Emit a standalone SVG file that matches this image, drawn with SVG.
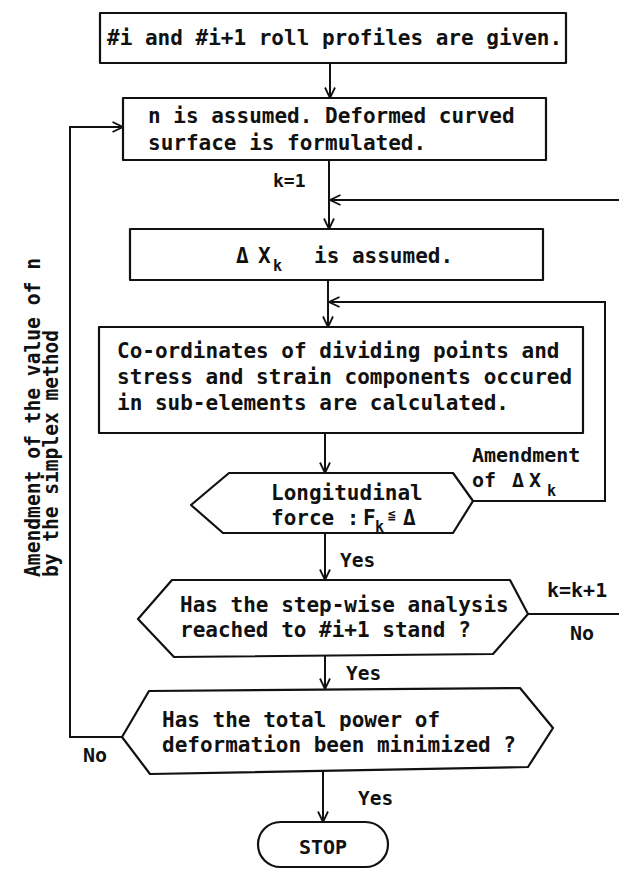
<svg xmlns="http://www.w3.org/2000/svg" width="619" height="869" viewBox="0 0 619 869">
<defs>
<style>
.shape{fill:none;stroke:#111;stroke-width:2.2;stroke-linejoin:round}
.line{fill:none;stroke:#111;stroke-width:2;stroke-linejoin:miter}
.t{font-family:"DejaVu Sans Mono","Liberation Mono",monospace;font-weight:bold;font-size:21px;fill:#111}
.s{font-size:19.5px}
.sub{font-size:15px}
.r{font-size:21px}
</style>
<marker id="arr" viewBox="0 0 12 12" refX="11.5" refY="6" markerWidth="12" markerHeight="12" markerUnits="userSpaceOnUse" orient="auto">
<path d="M1,1 L11.5,6 L1,11" fill="none" stroke="#111" stroke-width="1.8"/>
</marker>
</defs>
<rect width="619" height="869" fill="#fff"/>

<g id="connectors">
<line class="line" x1="330" y1="63" x2="330" y2="98" marker-end="url(#arr)"/>
<line class="line" x1="329" y1="160" x2="329" y2="229" marker-end="url(#arr)"/>
<line class="line" x1="619" y1="200" x2="330" y2="200" marker-end="url(#arr)"/>
<line class="line" x1="328" y1="280" x2="328" y2="327" marker-end="url(#arr)"/>
<polyline class="line" points="473,501 605,501 605,302 329,302" marker-end="url(#arr)"/>
<line class="line" x1="325" y1="433" x2="325" y2="473" marker-end="url(#arr)"/>
<line class="line" x1="325" y1="533" x2="325" y2="580" marker-end="url(#arr)"/>
<line class="line" x1="528" y1="614" x2="619" y2="614"/>
<line class="line" x1="325" y1="656" x2="325" y2="689" marker-end="url(#arr)"/>
<polyline class="line" points="122,737 70,737 70,127 123,127" marker-end="url(#arr)"/>
<line class="line" x1="323" y1="771" x2="323" y2="822" marker-end="url(#arr)"/>
<text class="t" x="273" y="187" style="font-size:18px">k=1</text>
<text class="t" x="472" y="462" style="font-size:20px">Amendment</text>
<text class="t" x="472" y="487" style="font-size:20px">of</text>
<text class="t" x="512" y="487" style="font-size:20px">Δ</text>
<text class="t" x="529" y="487" style="font-size:20px">X</text>
<text class="t sub" x="547" y="496">k</text>
<text class="t s" x="340" y="567">Yes</text>
<text class="t" x="547" y="597" style="font-size:20px">k=k+1</text>
<text class="t" x="570" y="640" style="font-size:20px">No</text>
<text class="t s" x="346" y="680">Yes</text>
<text class="t" x="83" y="762" style="font-size:20px">No</text>
<text class="t s" x="358" y="805">Yes</text>
<text class="t r" transform="translate(40,577) rotate(-90)" textLength="319" lengthAdjust="spacingAndGlyphs">Amendment of the value of n</text>
<text class="t r" transform="translate(58,577) rotate(-90)" textLength="247" lengthAdjust="spacingAndGlyphs">by the simplex method</text>
</g>

<g id="n1">
<rect class="shape" x="100" y="13" width="466" height="50"/>
<text class="t" x="107" y="45">#i and #i+1 roll profiles are given.</text>
</g>

<g id="n2">
<rect class="shape" x="123" y="98" width="423" height="62"/>
<text class="t" x="148" y="123">n is assumed. Deformed curved</text>
<text class="t" x="148" y="150">surface is formulated.</text>
</g>

<g id="n3">
<rect class="shape" x="130" y="229" width="413" height="51"/>
<text class="t" x="236" y="263">Δ</text>
<text class="t" x="258" y="263">X</text>
<text class="t sub" x="273" y="271">k</text>
<text class="t" x="314" y="263">is assumed.</text>
</g>

<g id="n4">
<rect class="shape" x="99" y="327" width="484" height="106"/>
<text class="t" x="117" y="358">Co-ordinates of dividing points and</text>
<text class="t" x="117" y="384">stress and strain components occured</text>
<text class="t" x="117" y="410">in sub-elements are calculated.</text>
</g>

<g id="n5">
<polygon class="shape" points="191,505 229,473 453,473 473,501 453,533 223,533"/>
<text class="t" x="271" y="500">Longitudinal</text>
<text class="t" x="271" y="525">force :</text>
<text class="t" x="363" y="525">F</text>
<text class="t sub" x="375" y="532">k</text>
<text class="t" x="388" y="519" style="font-size:13px">≦</text>
<text class="t" x="403" y="525">Δ</text>
</g>

<g id="n6">
<polygon class="shape" points="138,619 172,580 510,580 528,614 493,654 174,657"/>
<text class="t" x="180" y="612">Has the step-wise analysis</text>
<text class="t" x="180" y="637">reached to #i+1 stand ?</text>
</g>

<g id="n7">
<polygon class="shape" points="122,737 149,691 520,688 553,728 528,767 150,774"/>
<text class="t" x="162" y="727">Has the total power of</text>
<text class="t" x="162" y="752">deformation been minimized ?</text>
</g>

<g id="n8">
<rect class="shape" x="258" y="822" width="130" height="45" rx="22.5"/>
<text class="t" x="323" y="854" text-anchor="middle" style="font-size:20px">STOP</text>
</g>
</svg>
